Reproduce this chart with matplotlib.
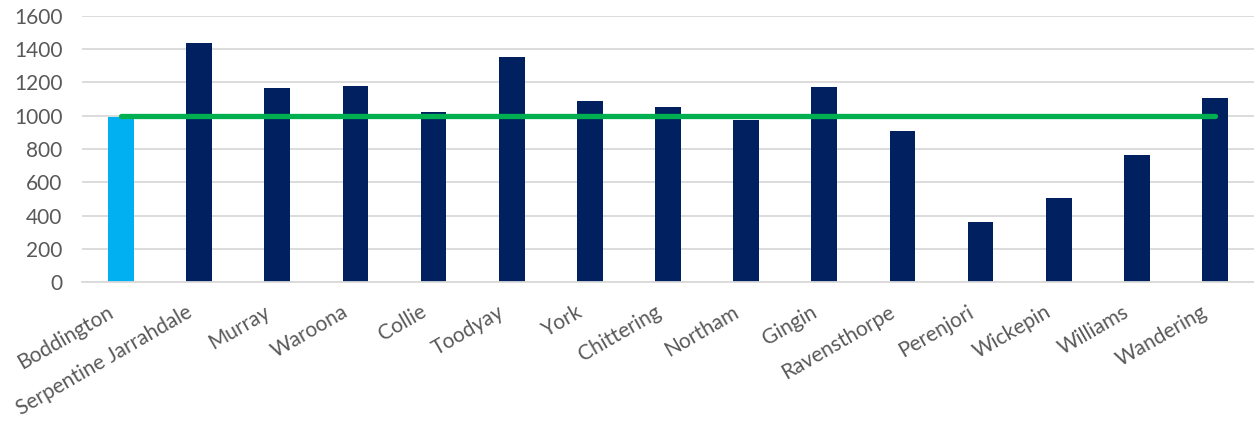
import matplotlib.pyplot as plt
import matplotlib.transforms as mtransforms

SHIRES = ["Boddington", "Serpentine Jarrahdale", "Murray", "Waroona", "Collie",
          "Toodyay", "York", "Chittering", "Northam", "Gingin", "Ravensthorpe",
          "Perenjori", "Wickepin", "Williams", "Wandering"]
VALUES = [990, 1438, 1164, 1180, 1020, 1354, 1086, 1054, 974, 1170, 910,
          360, 504, 766, 1104]
BENCHMARK = [1000] * len(SHIRES)

COLOR_HIGHLIGHT = "#00B0F0"
COLOR_BAR = "#002060"
COLOR_LINE = "#00B050"
TEXT_COLOR = "#595959"

plt.rcParams['font.family'] = ['Lato', 'DejaVu Sans']

def main():
    fig = plt.figure(figsize=(12.54, 4.21), dpi=100)
    ax = fig.add_axes([82 / 1254, (421 - 282.3) / 421, 1172 / 1254, (282.3 - 15.7) / 421])

    x = list(range(len(SHIRES)))
    colors = [COLOR_HIGHLIGHT] + [COLOR_BAR] * (len(SHIRES) - 1)
    ax.bar(x, VALUES, width=0.33, color=colors, zorder=2)
    ax.plot(x, BENCHMARK, color=COLOR_LINE, linewidth=3.8, solid_capstyle='round', zorder=3)

    ax.set_xlim(-0.5, len(SHIRES) - 0.5)
    ax.set_ylim(0, 1600)
    ax.set_yticks(range(0, 1601, 200))
    ax.yaxis.grid(True, color="#D9D9D9", linewidth=1.3, zorder=0)
    ax.set_axisbelow(True)
    for s in ["top", "right", "left"]:
        ax.spines[s].set_visible(False)
    ax.spines["bottom"].set_color("#D9D9D9")
    ax.spines["bottom"].set_linewidth(1.3)
    ax.tick_params(axis='both', length=0, labelsize=15, colors=TEXT_COLOR)
    ax.tick_params(axis='y', pad=14)

    ax.set_xticks(x)
    ax.set_xticklabels(SHIRES, rotation=30, ha='right', rotation_mode='anchor', fontsize=15)
    ax.tick_params(axis='x', pad=14)
    # Excel puts the rotated labels a bit left of the tick
    shift = mtransforms.ScaledTranslation(-14 / 100, 0, fig.dpi_scale_trans)
    for lbl in ax.get_xticklabels():
        lbl.set_transform(lbl.get_transform() + shift)

    fig.savefig("out.png", dpi=100)
    plt.close(fig)

main()
